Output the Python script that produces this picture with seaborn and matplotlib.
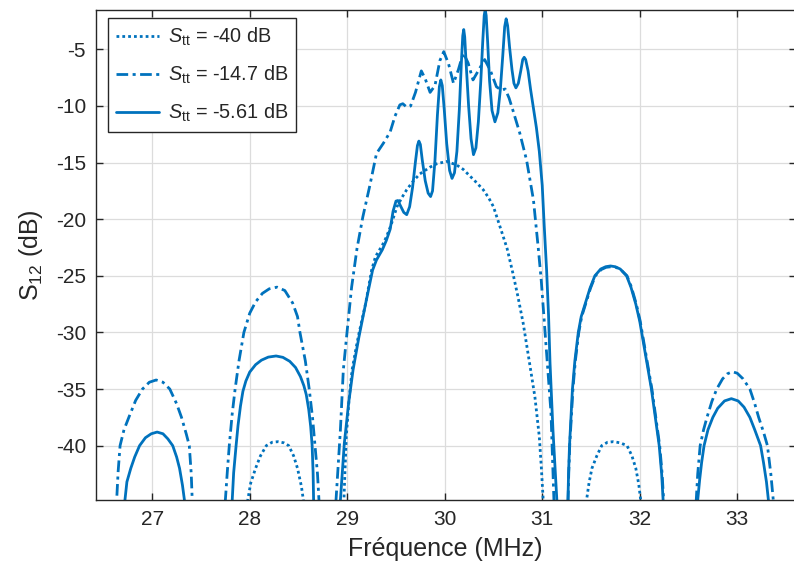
import numpy as np
import pandas as pd
import matplotlib
matplotlib.use("Agg")
import matplotlib.pyplot as plt
import seaborn as sns

# ---------------- data ----------------
# S_tt = -40 dB (dotted)
f_40 = [27.975, 27.98, 28.01, 28.06, 28.11, 28.17, 28.23, 28.29, 28.35, 28.40, 28.45, 28.49,
        28.53, 28.55, 28.555,
        28.75,
        28.955, 28.966, 28.99, 29.02, 29.05, 29.09, 29.12, 29.19, 29.25, 29.29, 29.36, 29.40,
        29.45, 29.51, 29.56, 29.61, 29.68, 29.745, 29.85, 29.92, 30.02, 30.12, 30.19, 30.26,
        30.33, 30.395, 30.45, 30.50, 30.58, 30.64, 30.70, 30.75, 30.805, 30.87, 30.925, 30.97,
        30.99, 31.01, 31.015,
        31.2,
        31.445, 31.455, 31.48, 31.51, 31.56, 31.61, 31.67, 31.73, 31.80, 31.87, 31.92, 31.96,
        31.99, 32.01, 32.015]
s_40 = [-46.5, -44.8, -43.3, -42.0, -40.9, -40.0, -39.7, -39.65, -39.75, -40.0, -40.9, -42.0,
        -43.6, -44.8, -46.5,
        -70,
        -46.5, -44.8, -39.2, -35.8, -33.3, -31.4, -30.1, -27.4, -24.5, -23.3, -22.3, -21.6,
        -20.5, -18.9, -18.1, -17.4, -16.6, -16.0, -15.4, -15.1, -14.9, -15.2, -15.6, -16.2,
        -16.8, -17.4, -18.1, -18.9, -21.0, -22.6, -24.8, -26.8, -29.2, -32.7, -35.7, -39.2,
        -41.8, -44.8, -46.5,
        -70,
        -46.5, -44.8, -43.3, -42.0, -40.9, -40.0, -39.7, -39.65, -39.75, -40.0, -40.9, -42.0,
        -43.4, -44.8, -46.5]

# S_tt = -14.7 dB (dash-dot)
f_147 = [26.625, 26.635, 26.65, 26.67, 26.71, 26.76, 26.83, 26.90, 26.97, 27.04, 27.11, 27.18,
         27.25, 27.30, 27.35, 27.38, 27.40, 27.41, 27.415,
         27.6,
         27.735, 27.75, 27.77, 27.79, 27.82, 27.85, 27.89, 27.94, 28.00, 28.06, 28.13, 28.20,
         28.28, 28.36, 28.44, 28.49, 28.515, 28.57, 28.61, 28.645, 28.67, 28.695, 28.71, 28.715,
         28.8,
         28.87, 28.885, 28.93, 28.96, 29.00, 29.045, 29.10, 29.16, 29.23, 29.30, 29.37, 29.44,
         29.49, 29.54, 29.57, 29.61, 29.65, 29.70, 29.76, 29.80, 29.85, 29.90, 29.95, 29.99,
         30.04, 30.09, 30.14, 30.19, 30.24, 30.29, 30.35, 30.41, 30.47, 30.53, 30.58, 30.62,
         30.66, 30.70, 30.77, 30.84, 30.91, 30.96, 30.99, 31.04, 31.09, 31.12, 31.125,
         31.2,
         31.258, 31.265, 31.272, 31.282, 31.298, 31.315, 31.34, 31.375, 31.405, 31.445, 31.495,
         31.545, 31.605, 31.655, 31.705, 31.755, 31.805, 31.87, 31.915, 31.965, 32.005, 32.025,
         32.075, 32.125, 32.165, 32.205, 32.23, 32.245, 32.25,
         32.4,
         32.57, 32.58, 32.595, 32.62, 32.655, 32.69, 32.74, 32.79, 32.85, 32.90, 32.95, 33.00,
         33.06, 33.13, 33.18, 33.22, 33.27, 33.31, 33.345, 33.37, 33.375]
s_147 = [-46.5, -44.8, -42.3, -40.0, -38.6, -37.5, -36.0, -35.0, -34.4, -34.2, -34.4, -35.0,
         -36.3, -37.5, -39.0, -40.0, -42.5, -44.8, -46.5,
         -70,
         -46.5, -44.8, -42.3, -40.0, -37.2, -35.0, -32.5, -30.0, -28.3, -27.3, -26.55, -26.15,
         -26.0, -26.3, -27.4, -28.6, -30.0, -32.5, -35.0, -37.6, -40.0, -42.5, -44.8, -46.5,
         -70,
         -46.5, -44.8, -38.6, -33.3, -29.8, -26.0, -22.6, -19.8, -17.1, -14.2, -13.3, -12.3,
         -10.9, -9.9, -9.8, -10.1, -10.0, -8.8, -6.9, -7.6, -8.8, -8.2, -6.0, -5.2,
         -6.3, -8.0, -6.8, -5.3, -6.2, -7.7, -6.8, -5.9, -6.9, -8.3, -8.6, -8.5,
         -9.3, -10.4, -12.4, -14.8, -18.3, -22.6, -25.4, -31.3, -37.1, -44.8, -46.5,
         -70,
         -46.5, -44.8, -42.5, -40.0, -37.5, -35.0, -32.5, -30.0, -28.6, -27.5, -26.1,
         -25.0, -24.45, -24.25, -24.2, -24.25, -24.45, -25.0, -26.0, -27.5, -29.0, -30.0,
         -32.5, -35.0, -37.5, -40.0, -42.5, -44.8, -46.5,
         -70,
         -46.5, -44.8, -42.5, -40.0, -38.6, -37.5, -36.1, -35.0, -34.1, -33.65, -33.47, -33.6,
         -34.1, -35.0, -36.3, -37.5, -38.8, -40.0, -42.5, -44.8, -46.5]

# S_tt = -5.61 dB (solid)
f_561 = [26.71, 26.72, 26.74, 26.78, 26.82, 26.87, 26.93, 26.99, 27.05, 27.11, 27.16, 27.21,
         27.25, 27.28, 27.31, 27.33, 27.335,
         27.55,
         27.81, 27.82, 27.835, 27.86, 27.88, 27.905, 27.93, 27.96, 28.00, 28.06, 28.12, 28.19,
         28.27, 28.34, 28.41, 28.47, 28.52, 28.555, 28.58, 28.605, 28.625, 28.64, 28.65,
         28.655, 28.66,
         28.8,
         28.925, 28.93, 28.97, 29.015, 29.06, 29.12, 29.19, 29.26, 29.30, 29.36, 29.40, 29.44,
         29.47, 29.50, 29.52, 29.545, 29.58, 29.61, 29.64, 29.67, 29.70, 29.72, 29.735, 29.75,
         29.77, 29.80, 29.83, 29.855, 29.875, 29.90, 29.925, 29.945, 29.96, 29.975, 29.995,
         30.02, 30.05, 30.075, 30.10, 30.125, 30.15, 30.17, 30.185, 30.195, 30.205, 30.22,
         30.245, 30.27, 30.295, 30.32, 30.345, 30.37, 30.39, 30.405, 30.415, 30.425, 30.44,
         30.46, 30.485, 30.515, 30.545, 30.57, 30.595, 30.615, 30.63, 30.645, 30.665, 30.69,
         30.71, 30.73, 30.755, 30.78, 30.80, 30.815, 30.83, 30.855, 30.88, 30.91, 30.94, 30.97,
         31.00, 31.02, 31.045, 31.065, 31.08, 31.11, 31.15, 31.155,
         31.2,
         31.26, 31.265, 31.27, 31.28, 31.295, 31.31, 31.335, 31.37, 31.40, 31.44, 31.49, 31.54,
         31.60, 31.65, 31.70, 31.75, 31.80, 31.865, 31.91, 31.96, 32.00, 32.02, 32.07, 32.12,
         32.16, 32.20, 32.225, 32.24, 32.245,
         32.4,
         32.585, 32.595, 32.615, 32.635, 32.66, 32.70, 32.75, 32.80, 32.87, 32.94, 33.01, 33.07,
         33.13, 33.18, 33.24, 33.27, 33.30, 33.32, 33.325]
s_561 = [-46.5, -44.8, -43.2, -42.0, -41.0, -40.0, -39.3, -38.95, -38.8, -38.95, -39.4, -40.0,
         -41.0, -42.0, -43.5, -44.8, -46.5,
         -70,
         -46.5, -44.8, -42.4, -40.0, -38.2, -36.5, -35.2, -34.3, -33.5, -32.85, -32.45, -32.18,
         -32.08, -32.2, -32.55, -33.1, -33.9, -34.7, -35.5, -36.8, -38.3, -40.0, -42.4,
         -44.8, -46.5,
         -70,
         -46.5, -44.8, -39.8, -36.2, -33.3, -30.4, -27.4, -24.5, -23.6, -22.7, -21.9, -20.9,
         -19.3, -18.4, -18.35, -18.8, -19.4, -19.6, -18.9, -17.2, -14.9, -13.5, -13.1, -13.4,
         -14.8, -16.6, -17.7, -18.0, -17.5, -14.8, -10.8, -8.3, -7.7, -8.2, -10.3,
         -13.3, -15.7, -16.4, -15.9, -14.0, -10.3, -6.3, -3.8, -3.25, -3.9, -6.3,
         -10.0, -12.9, -14.3, -13.7, -11.4, -7.8, -4.3, -2.0, -1.5, -2.0, -4.3,
         -7.8, -10.4, -11.4, -10.6, -8.6, -5.6, -3.0, -2.3, -2.9, -4.8, -6.8,
         -8.0, -8.4, -8.0, -6.9, -5.9, -5.7, -5.9, -6.9, -8.5, -10.2, -11.9, -14.0,
         -17.0, -20.5, -24.5, -28.5, -32.7, -38.6, -44.8, -46.5,
         -70,
         -46.5, -44.8, -42.5, -40.0, -37.5, -35.0, -32.5, -30.0, -28.6, -27.5, -26.1, -25.0,
         -24.4, -24.2, -24.13, -24.2, -24.4, -25.0, -26.0, -27.5, -29.0, -30.0, -32.5, -35.0,
         -37.5, -40.0, -42.5, -44.8, -46.5,
         -70,
         -46.5, -44.8, -43.0, -41.5, -40.0, -38.6, -37.5, -36.7, -36.05, -35.85, -36.05, -36.6,
         -37.5, -38.6, -40.0, -41.5, -43.2, -44.8, -46.5]

labels = [r"$\mathit{S}_{\mathrm{tt}}$ = -40 dB",
          r"$\mathit{S}_{\mathrm{tt}}$ = -14.7 dB",
          r"$\mathit{S}_{\mathrm{tt}}$ = -5.61 dB"]
x_ticks = [27, 28, 29, 30, 31, 32, 33]
y_ticks = [-40, -35, -30, -25, -20, -15, -10, -5]

# ---------------- style ----------------
sns.set_style("ticks")
plt.rcParams["font.family"] = ["Liberation Sans", "DejaVu Sans"]
plt.rcParams["mathtext.fontset"] = "custom"
plt.rcParams["mathtext.rm"] = "Liberation Sans"
plt.rcParams["mathtext.it"] = "Liberation Sans:italic"
plt.rcParams["mathtext.bf"] = "Liberation Sans:bold"

BLUE = "#0072BD"
DARK = "#262626"

fig = plt.figure(figsize=(7.94, 5.72), dpi=100)
ax = fig.add_axes([95.7 / 794, 72 / 572, 700.0 / 794, 489.7 / 572])

series = [
    (f_40, s_40, (0, (1, 1.1)), labels[0]),
    (f_147, s_147, (0, (4.2, 1.6, 1.1, 1.6)), labels[1]),
    (f_561, s_561, "-", labels[2]),
]
for fx, sy, ls, lab in series:
    df = pd.DataFrame({"f": fx, "s": sy})
    sns.lineplot(data=df, x="f", y="s", ax=ax, sort=False, estimator=None,
                 color=BLUE, linestyle=ls, linewidth=2.0, label=lab)

ax.set_xlim(26.42, 33.6)
ax.set_ylim(-44.8, -1.55)
ax.set_xticks(x_ticks)
ax.set_yticks(y_ticks)
ax.set_xticklabels([str(t) for t in x_ticks])
ax.set_yticklabels([str(t) for t in y_ticks])

ax.grid(True, color="#dcdcdc", linewidth=0.9)
ax.set_axisbelow(True)
for sp in ax.spines.values():
    sp.set_color(DARK)
    sp.set_linewidth(1.0)
ax.tick_params(direction="in", length=5, width=1.0, colors=DARK, labelsize=15,
               top=True, right=True, labelcolor=DARK, pad=7)

ax.set_xlabel("Fréquence (MHz)", fontsize=18, color=DARK, labelpad=6)
ax.set_ylabel(r"S$_{12}$ (dB)", fontsize=18, color=DARK, labelpad=8)

leg = ax.legend(loc="upper left", bbox_to_anchor=(0.018, 0.984), borderaxespad=0,
                fontsize=14.3, frameon=True, fancybox=False, handlelength=2.15,
                labelspacing=0.78, borderpad=0.4, handletextpad=0.45)
leg.get_frame().set_edgecolor(DARK)
leg.get_frame().set_linewidth(1.0)
leg.get_frame().set_alpha(1.0)

fig.savefig("out.png", dpi=100)
